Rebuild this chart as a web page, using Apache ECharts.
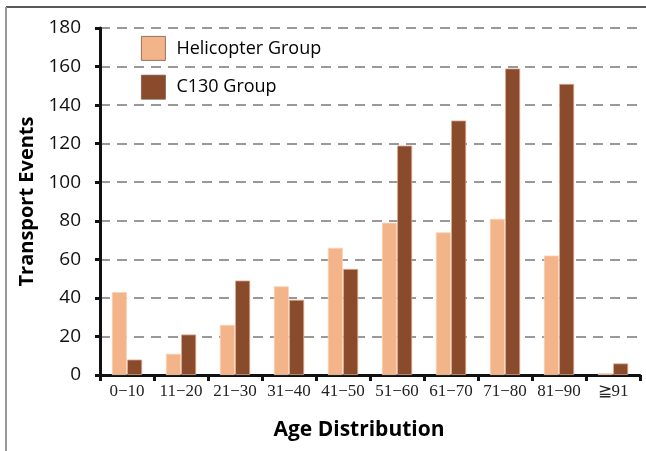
<!DOCTYPE html>
<html><head><meta charset="utf-8">
<script src="https://cdn.jsdelivr.net/npm/echarts@6/dist/echarts.min.js"></script>
<style>html,body{margin:0;padding:0;background:#fff}#c{width:646px;height:451px}</style>
</head><body><div id="c"></div>
<script>
const categories = ['0\u221210','11\u221220','21\u221230','31\u221240','41\u221250','51\u221260','61\u221270','71\u221280','81\u221290','\u226791'];
const heliValues = [43, 11, 26, 46, 66, 79, 74, 81, 62, 1];
const c130Values = [8, 21, 49, 39, 55, 119, 132, 159, 151, 6];
const yTicks = [0, 20, 40, 60, 80, 100, 120, 140, 160, 180];

const chart = echarts.init(document.getElementById('c'), null, {renderer: 'canvas'});
chart.setOption({
  animation: false,
  backgroundColor: '#fff',
  graphic: [
    {type: 'line', shape: {x1: 6, y1: 7, x2: 646, y2: 7}, style: {stroke: '#222', lineWidth: 1.5}},
    {type: 'line', shape: {x1: 6, y1: 7, x2: 6, y2: 451}, style: {stroke: '#999', lineWidth: 2}}
  ],
  grid: {left: 100, right: 6, top: 28, bottom: 76},
  legend: {
    orient: 'vertical', left: 141, top: 36, padding: 0, itemWidth: 24, itemHeight: 24, itemGap: 14,
    icon: 'rect',
    itemStyle: {borderColor: '#7a5a48', borderWidth: 0.8},
    textStyle: {fontFamily: 'Open Sans', fontSize: 18, color: '#000', padding: [0, 0, 0, 6]},
    data: ['Helicopter Group', 'C130 Group']
  },
  xAxis: {
    type: 'category', data: categories,
    name: 'Age Distribution', nameLocation: 'middle', nameGap: 45,
    nameTextStyle: {fontFamily: 'Open Sans', fontWeight: 'bold', fontSize: 21, color: '#000', padding: [0, 22, 0, 0]},
    axisLine: {lineStyle: {color: '#111', width: 3}},
    axisTick: {show: true, length: 6, lineStyle: {color: '#111', width: 3}},
    axisLabel: {interval: 0, fontFamily: 'Liberation Serif', fontSize: 17, color: '#222', margin: 8}
  },
  yAxis: {
    type: 'value', min: 0, max: 180, interval: 20,
    name: 'Transport Events', nameLocation: 'middle', nameGap: 62,
    nameTextStyle: {fontFamily: 'Open Sans', fontWeight: 'bold', fontSize: 20, color: '#000'},
    axisLine: {show: true, lineStyle: {color: '#111', width: 3}},
    axisTick: {show: true, length: 5, lineStyle: {color: '#111', width: 3}},
    axisLabel: {fontFamily: 'Open Sans', fontSize: 19, color: '#111', margin: 19,
      formatter: v => yTicks.includes(v) ? String(v) : ''},
    splitLine: {lineStyle: {color: '#999', width: 2, type: [10, 7]}}
  },
  series: [
    {name: 'Helicopter Group', type: 'bar', data: heliValues, barWidth: 15, barGap: '2%',
     itemStyle: {color: '#F4B48A', borderColor: '#F9D3B8', borderWidth: 0.8}},
    {name: 'C130 Group', type: 'bar', data: c130Values, barWidth: 15, barGap: '2%',
     itemStyle: {color: '#8A4A2C', borderColor: '#D9A88E', borderWidth: 0.8}}
  ]
});
</script></body></html>
